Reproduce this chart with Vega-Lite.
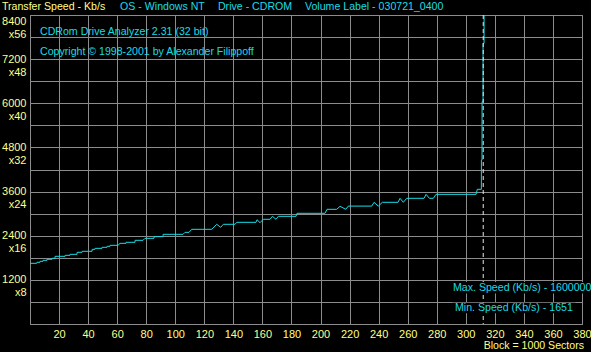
{
  "$schema": "https://vega.github.io/schema/vega-lite/v6.json",
  "width": 552,
  "height": 309,
  "autosize": {"type": "none"},
  "padding": {"left": 30, "top": 15, "right": 9, "bottom": 28},
  "background": "#000000",
  "config": {
    "view": {"stroke": "#8c8c8c", "strokeWidth": 1},
    "axis": {
      "gridColor": "#8c8c8c",
      "gridOpacity": 1,
      "gridWidth": 1,
      "domain": false,
      "ticks": false,
      "labelFont": "Liberation Sans",
      "labelFontSize": 11,
      "labelColor": "#ffff88",
      "title": null
    },
    "text": {"font": "Liberation Sans", "fontSize": 10.6, "align": "left", "baseline": "middle"}
  },
  "layer": [
    {
      "data": {
        "values": [
          {"block": 0, "speed": 1650}, {"block": 4.61, "speed": 1650}, {"block": 4.82, "speed": 1677}, {"block": 6.88, "speed": 1677},
          {"block": 6.95, "speed": 1704}, {"block": 8.95, "speed": 1704}, {"block": 9.0, "speed": 1731}, {"block": 11.7, "speed": 1731},
          {"block": 11.75, "speed": 1759}, {"block": 15.15, "speed": 1759}, {"block": 15.2, "speed": 1786}, {"block": 17.21, "speed": 1786},
          {"block": 17.3, "speed": 1840}, {"block": 24.1, "speed": 1840}, {"block": 24.2, "speed": 1867}, {"block": 27.54, "speed": 1867},
          {"block": 27.6, "speed": 1894}, {"block": 32.36, "speed": 1894}, {"block": 32.45, "speed": 1949}, {"block": 35.8, "speed": 1949},
          {"block": 35.9, "speed": 1976}, {"block": 42.69, "speed": 1976}, {"block": 42.8, "speed": 2030}, {"block": 44.75, "speed": 2030},
          {"block": 44.85, "speed": 2057}, {"block": 49.57, "speed": 2057}, {"block": 49.65, "speed": 2085}, {"block": 53.01, "speed": 2085},
          {"block": 53.1, "speed": 2112}, {"block": 55.08, "speed": 2112}, {"block": 55.15, "speed": 2139}, {"block": 60.59, "speed": 2139},
          {"block": 61.96, "speed": 2193}, {"block": 66.09, "speed": 2193}, {"block": 66.15, "speed": 2221}, {"block": 72.29, "speed": 2221},
          {"block": 72.35, "speed": 2275}, {"block": 77.8, "speed": 2275}, {"block": 79.17, "speed": 2329}, {"block": 85.37, "speed": 2329},
          {"block": 85.45, "speed": 2375}, {"block": 91.57, "speed": 2375}, {"block": 91.65, "speed": 2438}, {"block": 105.34, "speed": 2438},
          {"block": 106.71, "speed": 2492}, {"block": 109.47, "speed": 2492}, {"block": 111.33, "speed": 2574}, {"block": 125.1, "speed": 2574},
          {"block": 128.54, "speed": 2710}, {"block": 131.29, "speed": 2628}, {"block": 133.08, "speed": 2710}, {"block": 141.14, "speed": 2710},
          {"block": 142.31, "speed": 2764}, {"block": 155.59, "speed": 2764}, {"block": 156.28, "speed": 2835}, {"block": 158.35, "speed": 2754},
          {"block": 160.62, "speed": 2846}, {"block": 165.23, "speed": 2846}, {"block": 166.81, "speed": 2927}, {"block": 169.36, "speed": 2846},
          {"block": 170.95, "speed": 2927}, {"block": 183.13, "speed": 2927}, {"block": 183.82, "speed": 3009}, {"block": 203.1, "speed": 3009},
          {"block": 204.48, "speed": 3118}, {"block": 211.15, "speed": 3118}, {"block": 213.43, "speed": 3199}, {"block": 217.35, "speed": 3118},
          {"block": 219.14, "speed": 3205}, {"block": 235.25, "speed": 3205}, {"block": 236.83, "speed": 3308}, {"block": 239.79, "speed": 3205},
          {"block": 242.55, "speed": 3308}, {"block": 253.36, "speed": 3308}, {"block": 254.73, "speed": 3417}, {"block": 257.0, "speed": 3308},
          {"block": 259.35, "speed": 3417}, {"block": 271.26, "speed": 3417}, {"block": 272.63, "speed": 3525}, {"block": 274.91, "speed": 3417},
          {"block": 277.66, "speed": 3417}, {"block": 279.52, "speed": 3525}, {"block": 307.06, "speed": 3525}, {"block": 307.95, "speed": 3661},
          {"block": 310.71, "speed": 3661}, {"block": 310.75, "speed": 4458}, {"block": 311.19, "speed": 4458}, {"block": 311.22, "speed": 6042},
          {"block": 311.88, "speed": 6042}, {"block": 311.9, "speed": 7629}, {"block": 312.57, "speed": 7629}, {"block": 312.6, "speed": 8400}
        ]
      },
      "mark": {"type": "line", "color": "#18dce6", "strokeWidth": 1, "interpolate": "linear"},
      "encoding": {
        "x": {
          "field": "block",
          "type": "quantitative",
          "scale": {"domain": [0, 380], "nice": false, "zero": false},
          "axis": {
            "values": [0, 20, 40, 60, 80, 100, 120, 140, 160, 180, 200, 220, 240, 260, 280, 300, 320, 340, 360, 380],
            "tickCount": 100,
            "format": "d",
            "labelExpr": "datum.value == 0 ? '' : datum.label",
            "labelPadding": 4,
            "labelFlush": false,
            "labelOverlap": false
          }
        },
        "y": {
          "field": "speed",
          "type": "quantitative",
          "scale": {"domain": [0, 8400], "nice": false},
          "axis": {
            "values": [0, 600, 1200, 1800, 2400, 3000, 3600, 4200, 4800, 5400, 6000, 6600, 7200, 7800, 8400],
            "tickCount": 100,
            "format": "d",
            "labelExpr": "datum.value > 0 && datum.value % 1200 == 0 ? [datum.label, 'x' + (datum.value / 150)] : ''",
            "labelPadding": 4,
            "labelFlush": false,
            "labelOverlap": false,
            "labelBaseline": "top",
            "labelOffset": {"condition": {"test": "datum.value == 8400", "value": 0}, "value": -6}
          }
        }
      }
    },
    {
      "data": {"values": [{}]},
      "mark": {"type": "rule", "color": "#e6e6e6", "strokeDash": [4, 3], "strokeWidth": 1},
      "encoding": {"x": {"datum": 312}}
    },
    {
      "data": {"values": [{}]},
      "mark": {"type": "rect", "color": "#000000"},
      "encoding": {"x": {"datum": 290.5}, "x2": {"datum": 392}, "y": {"datum": 1140}, "y2": {"datum": 830}}
    },
    {
      "data": {"values": [{}]},
      "mark": {"type": "rect", "color": "#000000"},
      "encoding": {"x": {"datum": 290.5}, "x2": {"datum": 375.5}, "y": {"datum": 575}, "y2": {"datum": 290}}
    },
    {
      "data": {"values": [{}]},
      "mark": {"type": "text", "color": "#ffff88"},
      "encoding": {"x": {"datum": -19.3}, "y": {"datum": 8608}, "text": {"value": "Transfer Speed - Kb/s"}}
    },
    {
      "data": {"values": [{}]},
      "mark": {"type": "text", "color": "#18dce6"},
      "encoding": {"x": {"datum": 62.0}, "y": {"datum": 8608}, "text": {"value": "OS - Windows NT"}}
    },
    {
      "data": {"values": [{}]},
      "mark": {"type": "text", "color": "#18dce6"},
      "encoding": {"x": {"datum": 129.4}, "y": {"datum": 8608}, "text": {"value": "Drive - CDROM"}}
    },
    {
      "data": {"values": [{}]},
      "mark": {"type": "text", "color": "#18dce6"},
      "encoding": {"x": {"datum": 189.3}, "y": {"datum": 8608}, "text": {"value": "Volume Label - 030721_0400"}}
    },
    {
      "data": {"values": [{}]},
      "mark": {"type": "text", "color": "#18dce6"},
      "encoding": {"x": {"datum": 6.9}, "y": {"datum": 7937}, "text": {"value": "CDRom Drive Analyzer 2.31 (32 bit)"}}
    },
    {
      "data": {"values": [{}]},
      "mark": {"type": "text", "color": "#18dce6"},
      "encoding": {"x": {"datum": 6.9}, "y": {"datum": 7401}, "text": {"value": "Copyright © 1998-2001 by Alexander Filippoff"}}
    },
    {
      "data": {"values": [{}]},
      "mark": {"type": "text", "color": "#18dce6"},
      "encoding": {"x": {"datum": 291.2}, "y": {"datum": 970}, "text": {"value": "Max. Speed (Kb/s) - 1600000"}}
    },
    {
      "data": {"values": [{}]},
      "mark": {"type": "text", "color": "#18dce6"},
      "encoding": {"x": {"datum": 292.6}, "y": {"datum": 427}, "text": {"value": "Min. Speed (Kb/s) - 1651"}}
    },
    {
      "data": {"values": [{}]},
      "mark": {"type": "text", "color": "#ffff88", "align": "right"},
      "encoding": {"x": {"datum": 381.4}, "y": {"datum": -590}, "text": {"value": "Block = 1000 Sectors"}}
    }
  ]
}
